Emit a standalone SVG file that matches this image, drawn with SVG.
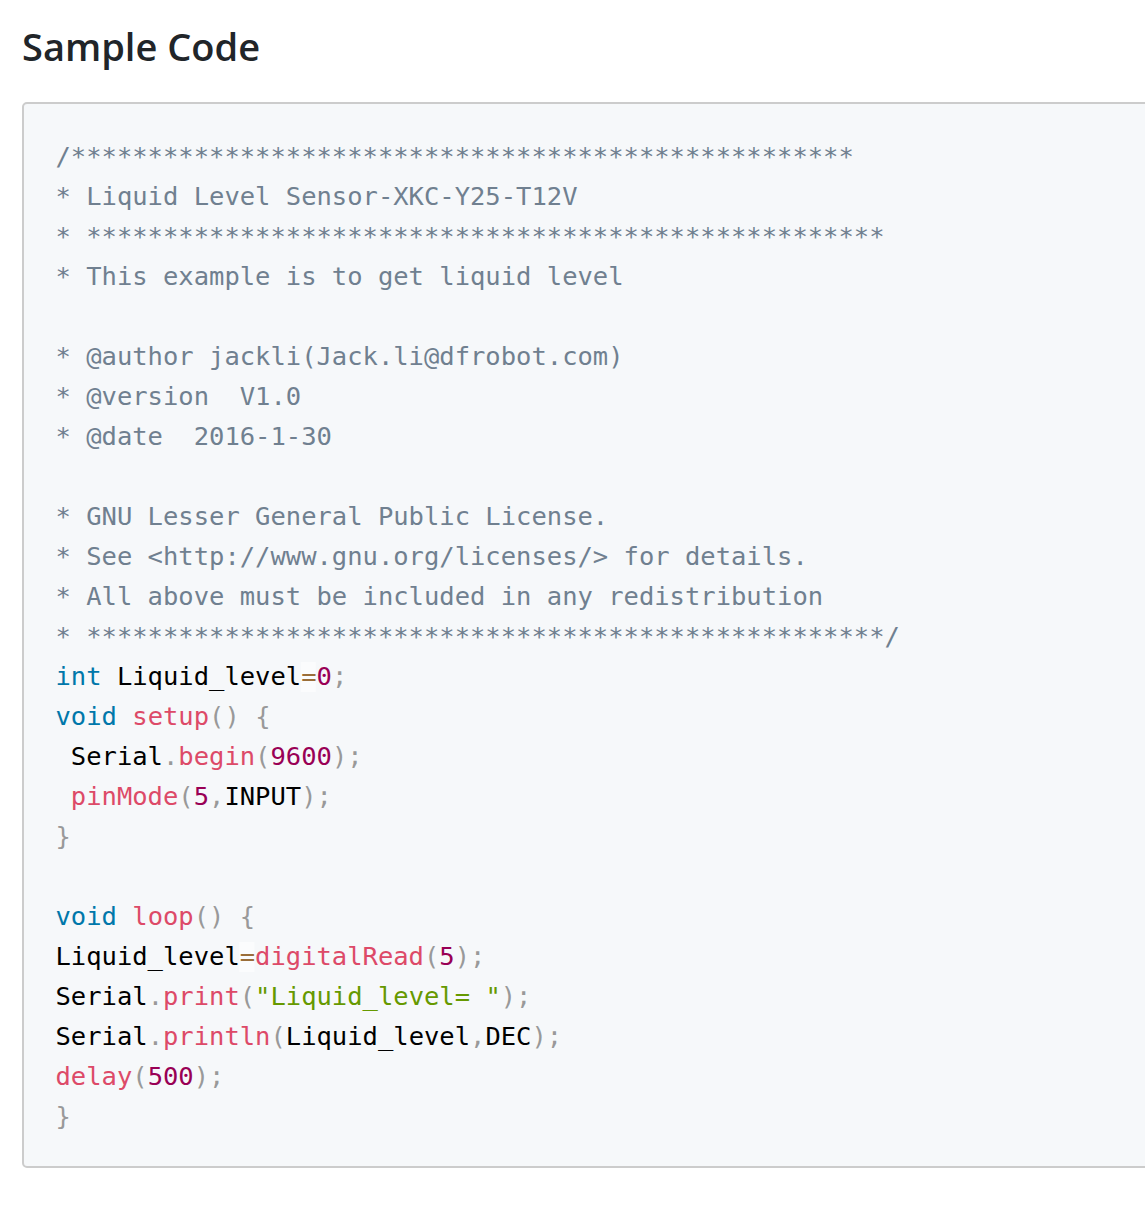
<svg xmlns="http://www.w3.org/2000/svg" width="1145" height="1210" viewBox="0 0 1145 1210">
<style>
.h{font-family:"Open Sans","Noto Sans","Liberation Sans",sans-serif;font-weight:600;font-size:38px;fill:#212529}
.code{font-family:"DejaVu Sans Mono","Liberation Mono",monospace;font-size:25.5px;fill:#000}
.c{fill:#708090}
.k{fill:#0077aa}
.f{fill:#dd4a68}
.p{fill:#999999}
.n{fill:#990055}
.o{fill:#9a6e3a}
.s{fill:#669900}
.obg{fill:#ffffff;fill-opacity:0.5}
</style>
<rect width="1145" height="1210" fill="#ffffff"/>
<g id="heading">
<text class="h" x="22" y="61">Sample Code</text>
</g>
<g id="codeblock">
<rect x="23" y="103" width="1140" height="1064" rx="4" ry="4" fill="#f6f8fa" stroke="#cccccc" stroke-width="2"/>
<rect class="obg" x="300.6" y="662" width="15.35" height="30"/>
<rect class="obg" x="239.2" y="942" width="15.35" height="30"/>
<text class="code" xml:space="preserve">
<tspan class="c" x="55.5" y="165">/***************************************************</tspan>
<tspan class="c" x="55.5" y="205">* Liquid Level Sensor-XKC-Y25-T12V</tspan>
<tspan class="c" x="55.5" y="245">* ****************************************************</tspan>
<tspan class="c" x="55.5" y="285">* This example is to get liquid level</tspan>
<tspan class="c" x="55.5" y="365">* @author jackli(Jack.li@dfrobot.com)</tspan>
<tspan class="c" x="55.5" y="405">* @version  V1.0</tspan>
<tspan class="c" x="55.5" y="445">* @date  2016-1-30</tspan>
<tspan class="c" x="55.5" y="525">* GNU Lesser General Public License.</tspan>
<tspan class="c" x="55.5" y="565">* See &lt;http://www.gnu.org/licenses/&gt; for details.</tspan>
<tspan class="c" x="55.5" y="605">* All above must be included in any redistribution</tspan>
<tspan class="c" x="55.5" y="645">* ****************************************************/</tspan>
<tspan x="55.5" y="685"><tspan class="k">int</tspan> Liquid_level<tspan class="o">=</tspan><tspan class="n">0</tspan><tspan class="p">;</tspan></tspan>
<tspan x="55.5" y="725"><tspan class="k">void</tspan> <tspan class="f">setup</tspan><tspan class="p">()</tspan> <tspan class="p">{</tspan></tspan>
<tspan x="55.5" y="765"> Serial<tspan class="p">.</tspan><tspan class="f">begin</tspan><tspan class="p">(</tspan><tspan class="n">9600</tspan><tspan class="p">);</tspan></tspan>
<tspan x="55.5" y="805"> <tspan class="f">pinMode</tspan><tspan class="p">(</tspan><tspan class="n">5</tspan><tspan class="p">,</tspan>INPUT<tspan class="p">);</tspan></tspan>
<tspan x="55.5" y="845" class="p">}</tspan>
<tspan x="55.5" y="925"><tspan class="k">void</tspan> <tspan class="f">loop</tspan><tspan class="p">()</tspan> <tspan class="p">{</tspan></tspan>
<tspan x="55.5" y="965">Liquid_level<tspan class="o">=</tspan><tspan class="f">digitalRead</tspan><tspan class="p">(</tspan><tspan class="n">5</tspan><tspan class="p">);</tspan></tspan>
<tspan x="55.5" y="1005">Serial<tspan class="p">.</tspan><tspan class="f">print</tspan><tspan class="p">(</tspan><tspan class="s">"Liquid_level= "</tspan><tspan class="p">);</tspan></tspan>
<tspan x="55.5" y="1045">Serial<tspan class="p">.</tspan><tspan class="f">println</tspan><tspan class="p">(</tspan>Liquid_level<tspan class="p">,</tspan>DEC<tspan class="p">);</tspan></tspan>
<tspan x="55.5" y="1085"><tspan class="f">delay</tspan><tspan class="p">(</tspan><tspan class="n">500</tspan><tspan class="p">);</tspan></tspan>
<tspan x="55.5" y="1125" class="p">}</tspan>
</text>
</g>
</svg>
